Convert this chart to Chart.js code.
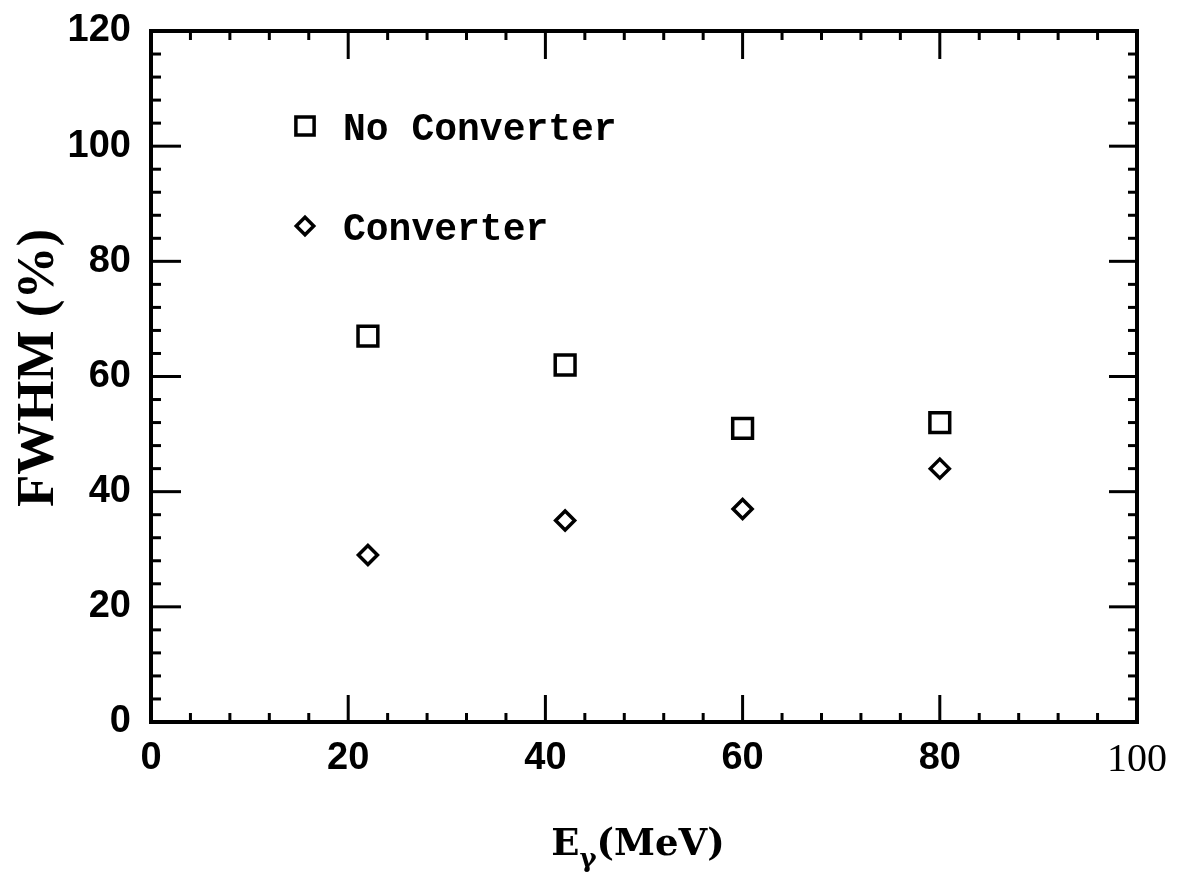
<!DOCTYPE html>
<html>
<head>
<meta charset="utf-8">
<title>FWHM vs photon energy</title>
<script src="https://cdn.jsdelivr.net/npm/chart.js@4.4.1/dist/chart.umd.min.js"></script>
<style>
  html, body { margin: 0; padding: 0; background: #fff; }
  #wrap { width: 1187px; height: 879px; position: relative; }
</style>
</head>
<body>
<div id="wrap"><canvas id="c" width="1187" height="879"></canvas></div>
<script>
// Photon energies (MeV) and measured resolution (FWHM, %)
const energies = [22, 42, 60, 80];
const fwhmNoConverter = [67, 62, 51, 52];
const fwhmConverter = [29, 35, 37, 44];
const seriesLabels = ['No Converter', 'Converter'];

// Axis ranges and tick spacing
const xRange = [0, 100];
const yRange = [0, 120];
const majorStep = 20;
const minorStep = 4;

const toPoints = (xs, ys) => xs.map((v, i) => ({ x: v, y: ys[i] }));

// Closed frame with inward major/minor ticks on all four sides
const frameTicks = {
  id: 'frameTicks',
  beforeDatasetsDraw(chart) {
    const { ctx, chartArea: a, scales: { x, y } } = chart;
    ctx.save();
    ctx.strokeStyle = '#000';
    ctx.lineCap = 'butt';
    ctx.lineWidth = 3;
    const seg = (x1, y1, x2, y2) => { ctx.beginPath(); ctx.moveTo(x1, y1); ctx.lineTo(x2, y2); ctx.stroke(); };
    const isMajor = v => Math.abs(v / majorStep - Math.round(v / majorStep)) < 1e-6;
    for (let v = x.min; v <= x.max + 1e-6; v += minorStep) {
      const px = x.getPixelForValue(v);
      const big = isMajor(v);
      seg(px, a.bottom, px, a.bottom - (big ? 27 : 9));
      seg(px, a.top, px, a.top + (big ? 28 : 9));
    }
    for (let v = y.min; v <= y.max + 1e-6; v += minorStep) {
      const py = y.getPixelForValue(v);
      const big = isMajor(v);
      seg(a.left, py, a.left + (big ? 30 : 10), py);
      seg(a.right, py, a.right - (big ? 28 : 9), py);
    }
    ctx.lineWidth = 4;
    ctx.lineJoin = 'miter';
    ctx.strokeRect(a.left, a.top, a.right - a.left, a.bottom - a.top);
    ctx.restore();
  }
};

// Axis titles (x title carries a subscript gamma)
const axisTitles = {
  id: 'axisTitles',
  afterDraw(chart) {
    const ctx = chart.ctx;
    ctx.save();
    ctx.fillStyle = '#000';
    // y title
    ctx.translate(53, 368);
    ctx.rotate(-Math.PI / 2);
    ctx.font = 'bold 53px "Liberation Serif"';
    ctx.textAlign = 'center';
    ctx.textBaseline = 'alphabetic';
    ctx.fillText('FWHM (%)', 0, 0);
    ctx.restore();

    ctx.save();
    ctx.fillStyle = '#000';
    ctx.textAlign = 'left';
    ctx.textBaseline = 'alphabetic';
    const mainFont = 'bold 37px "DejaVu Serif"';
    const subFont = 'bold 26px "DejaVu Serif"';
    ctx.font = mainFont;
    const wE = ctx.measureText('E').width;
    const wRest = ctx.measureText('(MeV)').width;
    ctx.font = subFont;
    const wG = ctx.measureText('γ').width;
    const total = wE + wG + wRest;
    let cx = 638 - total / 2;
    const base = 855;
    ctx.font = mainFont;
    ctx.fillText('E', cx, base);
    cx += wE;
    ctx.font = subFont;
    ctx.fillText('γ', cx, base + 12);
    cx += wG;
    ctx.font = mainFont;
    ctx.fillText('(MeV)', cx, base);
    ctx.restore();
  }
};

// Legend drawn inside the plotting area
const insideLegend = {
  id: 'insideLegend',
  afterDatasetsDraw(chart, args, opts) {
    const ctx = chart.ctx;
    chart.data.datasets.forEach((ds, i) => {
      const cy = opts.top + i * opts.rowGap;
      ctx.save();
      ctx.strokeStyle = ds.borderColor;
      ctx.fillStyle = 'rgba(0,0,0,0)';
      ctx.lineWidth = ds.borderWidth;
      Chart.helpers.drawPoint(ctx, {
        pointStyle: ds.pointStyle,
        radius: ds.pointRadius * opts.markerScale,
        rotation: 0,
        borderWidth: ds.borderWidth
      }, opts.markerX, cy);
      ctx.fillStyle = '#000';
      ctx.font = opts.font;
      ctx.textAlign = 'left';
      ctx.textBaseline = 'middle';
      ctx.fillText(ds.label, opts.textX, cy + 4);
      ctx.restore();
    });
  }
};

const tickFontSans = { family: '"Liberation Sans", Arial, sans-serif', size: 38, weight: 'bold' };
const tickFontSerif = { family: '"Liberation Serif", serif', size: 40, weight: 'normal' };

new Chart(document.getElementById('c'), {
  type: 'scatter',
  data: {
    datasets: [
      {
        label: seriesLabels[0],
        data: toPoints(energies, fwhmNoConverter),
        pointStyle: 'rect',
        pointRadius: 14,
        borderColor: '#000',
        backgroundColor: 'rgba(0,0,0,0)',
        borderWidth: 3.5,
        showLine: false
      },
      {
        label: seriesLabels[1],
        data: toPoints(energies, fwhmConverter),
        pointStyle: 'rectRot',
        pointRadius: 9.5,
        borderColor: '#000',
        backgroundColor: 'rgba(0,0,0,0)',
        borderWidth: 3.5,
        showLine: false
      }
    ]
  },
  options: {
    responsive: false,
    animation: false,
    events: [],
    layout: { padding: { top: 31, right: 50, left: 0, bottom: 0 } },
    plugins: {
      legend: { display: false },
      tooltip: { enabled: false },
      insideLegend: { markerX: 305, textX: 343, top: 126, rowGap: 100, markerScale: 0.92, font: 'bold 38px "Liberation Mono"' }
    },
    scales: {
      x: {
        type: 'linear',
        min: xRange[0],
        max: xRange[1],
        grid: { display: false, drawTicks: false },
        border: { display: false },
        ticks: {
          stepSize: majorStep,
          padding: 14,
          color: '#000',
          maxRotation: 0,
          font: ctx => (ctx.tick && ctx.tick.value === xRange[1]) ? tickFontSerif : tickFontSans
        },
        afterFit: s => { s.height = 879 - 722; s.paddingLeft = 0; s.paddingRight = 0; }
      },
      y: {
        type: 'linear',
        min: yRange[0],
        max: yRange[1],
        grid: { display: false, drawTicks: false },
        border: { display: false },
        ticks: { stepSize: majorStep, padding: 20, color: '#000', font: tickFontSans },
        afterFit: s => { s.width = 151; s.paddingTop = 0; s.paddingBottom = 0; }
      }
    }
  },
  plugins: [frameTicks, insideLegend, axisTitles]
});
</script>
</body>
</html>
